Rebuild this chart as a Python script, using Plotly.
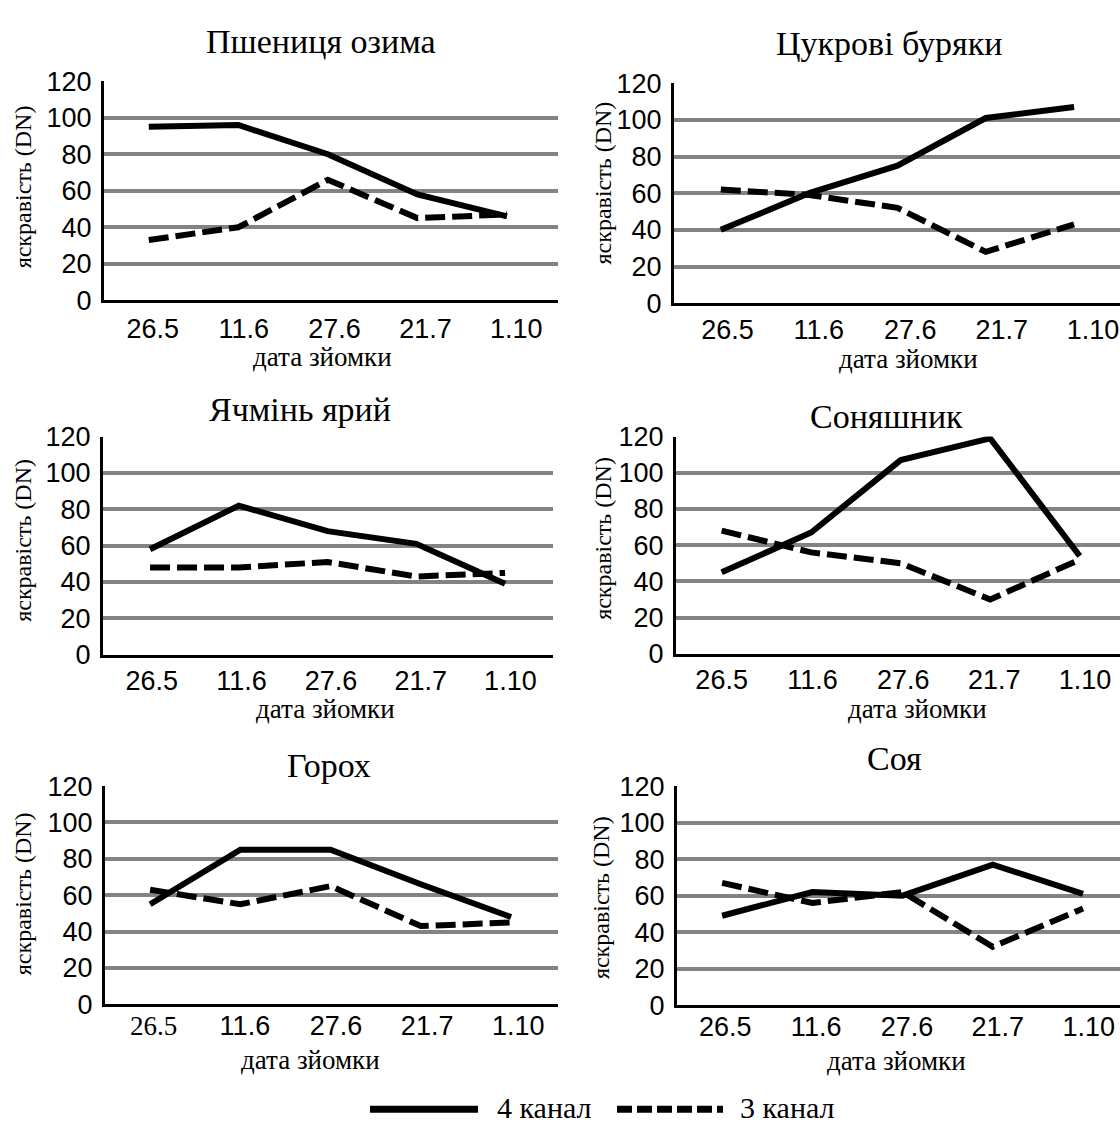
import plotly.graph_objects as go

# ---------------- data ----------------
dates = ["26.5", "11.6", "27.6", "21.7", "1.10"]
crops = ["Пшениця озима", "Цукрові буряки", "Ячмінь ярий", "Соняшник", "Горох", "Соя"]
series_names = ["4 канал", "3 канал"]
y_ticks = [0, 20, 40, 60, 80, 100, 120]

ch4_wheat = [95, 96, 80, 58, 46]
ch3_wheat = [33, 40, 66, 45, 47]
ch4_beet = [40, 60, 75, 101, 107]
ch3_beet = [62, 59, 52, 28, 43]
ch4_barley = [58, 82, 68, 61, 39]
ch3_barley = [48, 48, 51, 43, 45]
ch4_sunflower = [45, 67, 107, 119, 54]
ch3_sunflower = [68, 56, 50, 30, 52]
ch4_pea = [55, 85, 85, 66, 48]
ch3_pea = [63, 55, 65, 43, 45]
ch4_soy = [49, 62, 60, 77, 61]
ch3_soy = [67, 56, 62, 32, 53]

ch4_all = [ch4_wheat, ch4_beet, ch4_barley, ch4_sunflower, ch4_pea, ch4_soy]
ch3_all = [ch3_wheat, ch3_beet, ch3_barley, ch3_sunflower, ch3_pea, ch3_soy]

x_idx = list(range(len(dates)))

# ---------------- layout geometry (pixels) ----------------
W, H = 1120, 1138
boxes = [
    (104, 558, 68, 293, (-0.5, 4.57)),
    (674, 1120, 70, 296, (-0.53, 4.52)),
    (103, 553, 433, 657, (-0.53, 4.54)),
    (676, 1120, 433, 656, (-0.51, 4.45)),
    (105, 558, 792, 1016, (-0.5, 4.52)),
    (677, 1120, 792, 1017, (-0.5, 4.41)),
]
# label positions drift slightly right of the data points in the original
tick_shift = [(0.045, 0.015), (0.075, 0.035), (0.02, 0.01), (0.0, 0.015), (0.04, 0.01), (0.035, 0.007)]
title_pos = [(321, 27), (889, 29), (300, 405), (886, 412), (329, 771), (894, 764)]
xtitle_pos = [(322, 351), (908, 353), (325, 713), (917, 713), (310, 1073), (896, 1074)]
ytitle_pos = [(23, 177), (603, 173), (23, 540), (603, 538), (23, 903), (601, 907)]
tick_standoff = [2, 0, 0, 0, -5, -5]

SERIF = "Liberation Serif, Times New Roman, serif"
SANS = "Liberation Sans, Arial, sans-serif"

def px(x):
    return x / W

def py(y):
    return 1 - y / H

fig = go.Figure()
layout = {}
annotations = []

for i in range(6):
    n = i + 1
    xa = "x" if n == 1 else f"x{n}"
    ya = "y" if n == 1 else f"y{n}"
    x0, x1, yt, yb, xr = boxes[i]

    fig.add_trace(go.Scatter(
        x=x_idx, y=ch4_all[i], mode="lines", name=series_names[0],
        line=dict(color="black", width=6), xaxis=xa, yaxis=ya,
        showlegend=False, text=dates, hoverinfo="text+y+name"))
    fig.add_trace(go.Scatter(
        x=x_idx, y=ch3_all[i], mode="lines", name=series_names[1],
        line=dict(color="black", width=6, dash="20px,7px"), xaxis=xa, yaxis=ya,
        showlegend=False, text=dates, hoverinfo="text+y+name"))

    ticktext = list(dates)
    if i == 4:
        ticktext[0] = f'<span style="font-family:Liberation Serif">{dates[0]}</span>'
    a, b = tick_shift[i]
    tickvals = [k + a + b * k for k in x_idx]

    layout["xaxis" if n == 1 else f"xaxis{n}"] = dict(
        domain=[px(x0), px(x1)], anchor=ya, type="linear",
        range=list(xr), showgrid=False, zeroline=False,
        showline=True, linecolor="black", linewidth=3,
        ticks="", tickmode="array", tickvals=tickvals, ticktext=ticktext,
        tickfont=dict(family=SANS, size=27, color="black"),
        ticklabelstandoff=tick_standoff[i], ticklabeloverflow="allow",
        fixedrange=True)
    layout["yaxis" if n == 1 else f"yaxis{n}"] = dict(
        domain=[py(yb), py(yt)], anchor=xa, range=[0, 120],
        tickmode="array", tickvals=y_ticks,
        showgrid=True, gridcolor="#838383", gridwidth=4, zeroline=False,
        showline=True, linecolor="black", linewidth=3, ticks="",
        tickfont=dict(family=SANS, size=27, color="black"),
        ticklabelstandoff=4, fixedrange=True)

    tx, ty = title_pos[i]
    annotations.append(dict(text=crops[i], x=px(tx), y=py(ty), xref="paper", yref="paper",
                            xanchor="center", yanchor="middle", showarrow=False,
                            font=dict(family=SERIF, size=34, color="black")))
    tx, ty = xtitle_pos[i]
    annotations.append(dict(text="дата зйомки", x=px(tx), y=py(ty), xref="paper", yref="paper",
                            xanchor="center", yanchor="middle", showarrow=False,
                            font=dict(family=SERIF, size=27, color="black")))
    tx, ty = ytitle_pos[i]
    annotations.append(dict(text="яскравість (DN)", x=px(tx), y=py(ty), xref="paper", yref="paper",
                            xanchor="center", yanchor="middle", showarrow=False, textangle=-90,
                            font=dict(family=SERIF, size=24, color="black")))

# ---------------- legend (drawn below the panels) ----------------
LY = 1124
shapes = [
    dict(type="line", xref="paper", yref="paper", x0=px(370), x1=px(478), y0=py(LY), y1=py(LY),
         line=dict(color="black", width=7)),
    dict(type="line", xref="paper", yref="paper", x0=px(617), x1=px(723), y0=py(LY), y1=py(LY),
         line=dict(color="black", width=7, dash="15px,5px")),
]
annotations.append(dict(text=series_names[0], x=px(495), y=py(LY - 2), xref="paper", yref="paper",
                        xanchor="left", yanchor="middle", showarrow=False,
                        font=dict(family=SERIF, size=30, color="black")))
annotations.append(dict(text=series_names[1], x=px(738), y=py(LY - 2), xref="paper", yref="paper",
                        xanchor="left", yanchor="middle", showarrow=False,
                        font=dict(family=SERIF, size=30, color="black")))

fig.update_layout(
    width=W, height=H,
    margin=dict(l=0, r=0, t=0, b=0),
    paper_bgcolor="white", plot_bgcolor="white",
    showlegend=False,
    annotations=annotations, shapes=shapes,
    **layout,
)

fig.write_html(
    "out.html",
    config={"displayModeBar": False},
    post_script="document.body.style.margin='0px';document.body.style.overflow='hidden';",
)
